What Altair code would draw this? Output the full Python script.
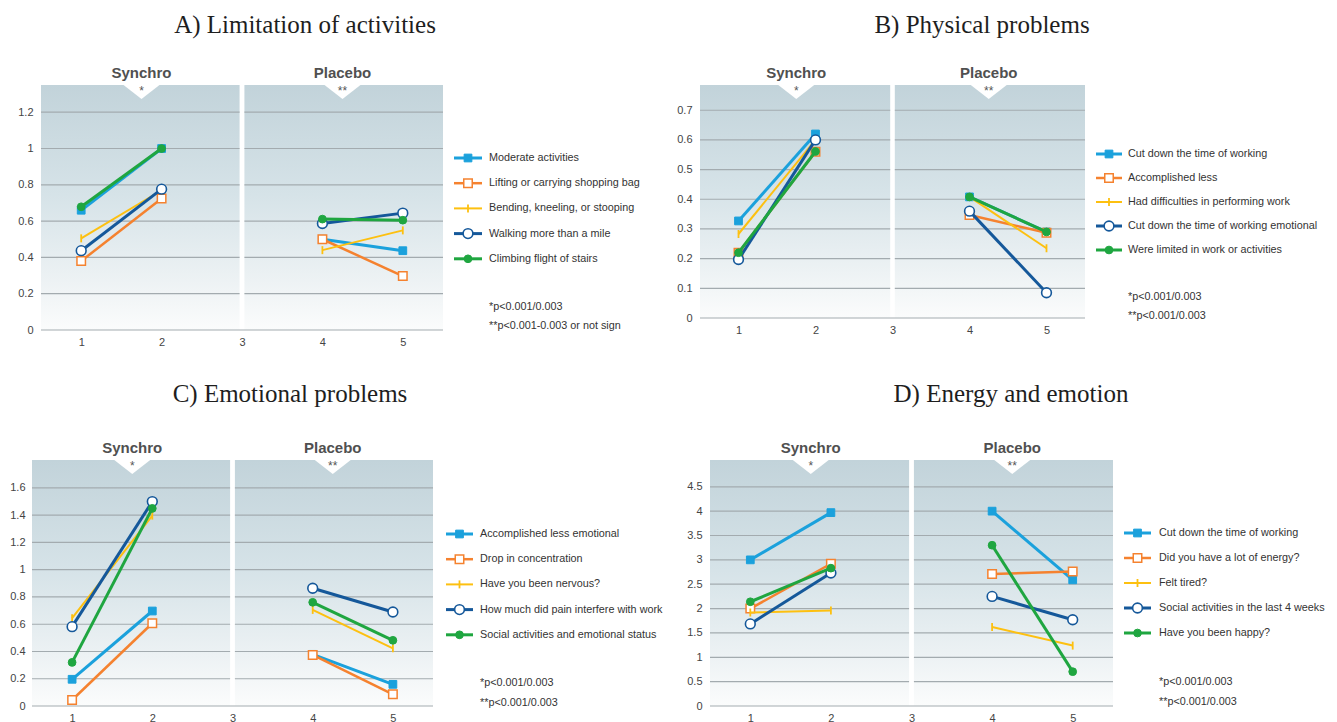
import altair as alt
import pandas as pd

# ------------------------------------------------------------------ data
times_synchro = [1, 2]
times_placebo = [4, 5]
x_ticks = [1, 2, 3, 4, 5]
groups = ["Synchro", "Placebo"]
group_marks = ["*", "**"]

A_title = "A) Limitation of activities"
A_series = ["Moderate activities", "Lifting or carrying shopping bag",
            "Bending, kneeling, or stooping", "Walking more than a mile",
            "Climbing flight of stairs"]
A_synchro = [[0.66, 1.0], [0.38, 0.725], [0.505, 0.77], [0.437, 0.776], [0.679, 1.0]]
A_placebo = [[0.5, 0.437], [0.5, 0.297], [0.44, 0.549], [0.587, 0.644], [0.611, 0.605]]
A_yticks = [0, 0.2, 0.4, 0.6, 0.8, 1, 1.2]
A_notes = ["*p<0.001/0.003", "**p<0.001-0.003 or not sign"]

B_title = "B) Physical problems"
B_series = ["Cut down the time of working", "Accomplished less",
            "Had difficulties in performing work",
            "Cut down the time of working emotional",
            "Were limited in work or activities"]
B_synchro = [[0.327, 0.62], [0.22, 0.56], [0.283, 0.6], [0.197, 0.6], [0.22, 0.561]]
B_placebo = [[0.408, 0.29], [0.347, 0.287], [0.408, 0.235], [0.36, 0.085], [0.408, 0.29]]
B_yticks = [0, 0.1, 0.2, 0.3, 0.4, 0.5, 0.6, 0.7]
B_notes = ["*p<0.001/0.003", "**p<0.001/0.003"]

C_title = "C) Emotional problems"
C_series = ["Accomplished less emotional", "Drop in concentration",
            "Have you been nervous?", "How much did pain interfere with work",
            "Social activities and emotional status"]
C_synchro = [[0.196, 0.697], [0.044, 0.607], [0.644, 1.397], [0.582, 1.5], [0.32, 1.45]]
C_placebo = [[0.379, 0.159], [0.375, 0.086], [0.705, 0.423], [0.864, 0.69], [0.761, 0.482]]
C_yticks = [0, 0.2, 0.4, 0.6, 0.8, 1, 1.2, 1.4, 1.6]
C_notes = ["*p<0.001/0.003", "**p<0.001/0.003"]

D_title = "D) Energy and emotion"
D_series = ["Cut down the time of working", "Did you have a lot of energy?",
            "Felt tired?", "Social activities in the last 4 weeks",
            "Have you been happy?"]
D_synchro = [[3.0, 3.97], [2.0, 2.92], [1.92, 1.96], [1.685, 2.73], [2.14, 2.83]]
D_placebo = [[4.0, 2.59], [2.71, 2.76], [1.62, 1.24], [2.25, 1.77], [3.3, 0.705]]
D_yticks = [0, 0.5, 1, 1.5, 2, 2.5, 3, 3.5, 4, 4.5]
D_notes = ["*p<0.001/0.003", "**p<0.001/0.003"]

# ------------------------------------------------------------------ style
SANS = "Liberation Sans"
SERIF = "Liberation Serif"
COLORS = ["#1ba1dc", "#f5822f", "#fdc010", "#15589a", "#1fa640"]
FILLS = ["#1ba1dc", "white", "#fdc010", "white", "#1fa640"]
SHAPES = ["square", "square", "M0,-1L0,1", "circle", "circle"]
SIZES = [60, 72, 64, 95, 60]
MSW = [1, 1.5, 1.8, 1.6, 1]
LINEW = [3, 2.5, 2, 3, 3]
GRID = "#a3abaf"
EDGES = [0.5, 3.0, 5.5]
GAP = 0.03
NOTCH = "M-1,0L1,0L0,0.78Z"

GRADIENT = alt.Gradient(
    gradient="linear", x1=0, x2=0, y1=0, y2=1,
    stops=[alt.GradientStop(color="#c2d3da", offset=0),
           alt.GradientStop(color="#d6e3e8", offset=0.45),
           alt.GradientStop(color="#edf2f4", offset=0.8),
           alt.GradientStop(color="#fbfcfc", offset=1)])


def make_plot(title, syn, pla, yticks, top, shade_w, height, ext, title_x, title_y,
              ylabel_pad=8):
    """shade_w: pixel width of the shaded area; ext: extra pixels left of it."""
    rows = []
    for i in range(len(syn)):
        for grp, times, vals in (("Synchro", times_synchro, syn[i]),
                                 ("Placebo", times_placebo, pla[i])):
            for t, v in zip(times, vals):
                rows.append(dict(s=i, grp=grp, t=t, v=v))
    df = pd.DataFrame(rows)

    reg = pd.DataFrame({
        "grp": groups, "stars": group_marks,
        "x1": [EDGES[0], EDGES[1] + GAP], "x2": [EDGES[1] - GAP, EDGES[2]],
        "xc": [(EDGES[0] + EDGES[1]) / 2, (EDGES[1] + EDGES[2]) / 2],
        "y0": [0, 0], "y1": [top, top]})
    grid_rows = []
    for _, r in reg.iterrows():
        for v in yticks:
            if v != 0:
                grid_rows.append(dict(x1=r.x1, x2=r.x2, v=v))
    grid_rows.append(dict(x1=EDGES[0], x2=EDGES[2], v=0))
    grid = pd.DataFrame(grid_rows)

    unit = shade_w / (EDGES[2] - EDGES[0])
    xsc = alt.Scale(domain=[EDGES[0] - ext / unit, EDGES[2]], nice=False, zero=False)
    ysc = alt.Scale(domain=[0, top], nice=False, zero=False)
    xaxis = alt.Axis(values=x_ticks, title=None, grid=False, domain=False, ticks=False,
                     labelPadding=6, labelFontSize=11, labelColor="#444",
                     labelFont=SANS, format="d", minExtent=0)
    yaxis = alt.Axis(values=yticks, title=None, grid=False, domain=False, ticks=False,
                     labelPadding=ylabel_pad - ext, labelFontSize=11, labelColor="#444",
                     labelFont=SANS, format="~g", minExtent=0)

    def X(f):
        return alt.X(f, type="quantitative", scale=xsc, axis=xaxis)

    def Y(f):
        return alt.Y(f, type="quantitative", scale=ysc, axis=yaxis)

    bg = alt.Chart(reg).mark_rect(fill=GRADIENT).encode(
        x=X("x1"), x2="x2", y=Y("y0"), y2="y1")
    gl = alt.Chart(grid).mark_rule(color=GRID, strokeWidth=1.2).encode(
        x=X("x1"), x2="x2", y=Y("v"))
    notch = alt.Chart(reg).mark_point(shape=NOTCH, size=1296, fill="white",
                                      strokeWidth=0, opacity=1, filled=True).encode(
        x=X("xc"), y=Y("y1"))
    stars = alt.Chart(reg).mark_text(baseline="top", dy=1, fontSize=12, font=SANS,
                                     color="#555").encode(
        x=X("xc"), y=Y("y1"), text="stars:N")
    labels = alt.Chart(reg).mark_text(baseline="alphabetic", dy=-7, fontSize=15,
                                      fontWeight="bold", font=SANS,
                                      color="#505050").encode(
        x=X("xc"), y=Y("y1"), text="grp:N")
    ttl = alt.Chart(pd.DataFrame({"title": [title]})).mark_text(
        font=SERIF, fontSize=25, baseline="alphabetic", align="center",
        color="#1e1e1e").encode(x=alt.value(title_x), y=alt.value(title_y),
                                text="title:N")

    layers = [bg, gl, notch, stars, labels, ttl]
    for i in range(len(syn)):
        base = alt.Chart().transform_filter(alt.datum.s == i)
        layers.append(base.mark_line(color=COLORS[i], strokeWidth=LINEW[i]).encode(
            x=X("t"), y=Y("v"), detail="grp:N"))
        layers.append(base.mark_point(shape=SHAPES[i], size=SIZES[i], fill=FILLS[i],
                                      stroke=COLORS[i], strokeWidth=MSW[i],
                                      opacity=1).encode(x=X("t"), y=Y("v")))
    return alt.layer(*layers, data=df).properties(width=shade_w + ext, height=height)


def make_legend(series, notes, width, height, row0, step, lx0, lx1, tx, ny0, nstep):
    ldf = pd.DataFrame({"idx": list(range(len(series))), "name": series})
    ysc = alt.Scale(domain=[0, len(series) - 1],
                    range=[row0, row0 + (len(series) - 1) * step])
    Yl = alt.Y("idx:Q", scale=ysc, axis=None)
    layers = []
    for i in range(len(series)):
        base = alt.Chart().transform_filter(alt.datum.idx == i)
        layers.append(base.mark_rule(color=COLORS[i], strokeWidth=LINEW[i]).encode(
            x=alt.value(lx0), x2=alt.value(lx1), y=Yl))
        layers.append(base.mark_point(shape=SHAPES[i], size=SIZES[i], fill=FILLS[i],
                                      stroke=COLORS[i], strokeWidth=MSW[i],
                                      opacity=1).encode(x=alt.value((lx0 + lx1) / 2), y=Yl))
    layers.append(alt.Chart().mark_text(align="left", baseline="middle", fontSize=10.8,
                                        font=SANS, color="#333").encode(
        x=alt.value(tx), y=Yl, text="name:N"))
    for j, note in enumerate(notes):
        layers.append(alt.Chart(pd.DataFrame({"note": [note]})).mark_text(
            align="left", baseline="middle", fontSize=10.8, font=SANS,
            color="#333").encode(x=alt.value(tx), y=alt.value(ny0 + j * nstep),
                                 text="note:N"))
    return alt.layer(*layers, data=ldf).properties(width=width, height=height)


def spacer(w, h):
    return alt.Chart(pd.DataFrame({"a": [0]})).mark_point(
        opacity=0, size=0, strokeWidth=0).encode(
        x=alt.value(0.5), y=alt.value(0.5)).properties(width=w, height=h)


# columns (px): 24 | 411 | 257 | 413 | 216
pA = make_plot(A_title, A_synchro, A_placebo, A_yticks, 1.35, 402, 245, 9, 273, -52)
lA = make_legend(A_series, A_notes, 257, 245, 73, 25.2, 11, 39, 46, 222, 19)
pB = make_plot(B_title, B_synchro, B_placebo, B_yticks, 0.785, 385, 233, 0, 282, -52)
lB = make_legend(B_series, B_notes, 216, 233, 69, 24, -17, 9, 15, 212, 19)
pC = make_plot(C_title, C_synchro, C_placebo, C_yticks, 1.805, 401, 246, 0, 258, -58,
               ylabel_pad=7)
lC = make_legend(C_series, C_notes, 257, 246, 74, 25.2, 3, 30, 37, 223, 20)
pD = make_plot(D_title, D_synchro, D_placebo, D_yticks, 5.05, 403, 246, 10, 311, -58)
lD = make_legend(D_series, D_notes, 216, 246, 73, 25, 11, 38, 46, 222, 20)

TOP = 77
MID = 130
cells = [
    spacer(24, TOP), spacer(1, TOP), spacer(1, TOP), spacer(1, TOP), spacer(1, TOP),
    spacer(24, 1), pA, lA, pB, lB,
    spacer(1, MID), spacer(1, MID), spacer(1, MID), spacer(1, MID), spacer(1, MID),
    spacer(24, 1), pC, lC, pD, lD,
]

chart = alt.concat(*cells, columns=5, spacing=0, bounds="flush", align="each").properties(
    padding=0, background="white").configure(font=SANS).configure_view(stroke=None)

chart.save("out.html", embed_options={"renderer": "svg", "actions": False})
